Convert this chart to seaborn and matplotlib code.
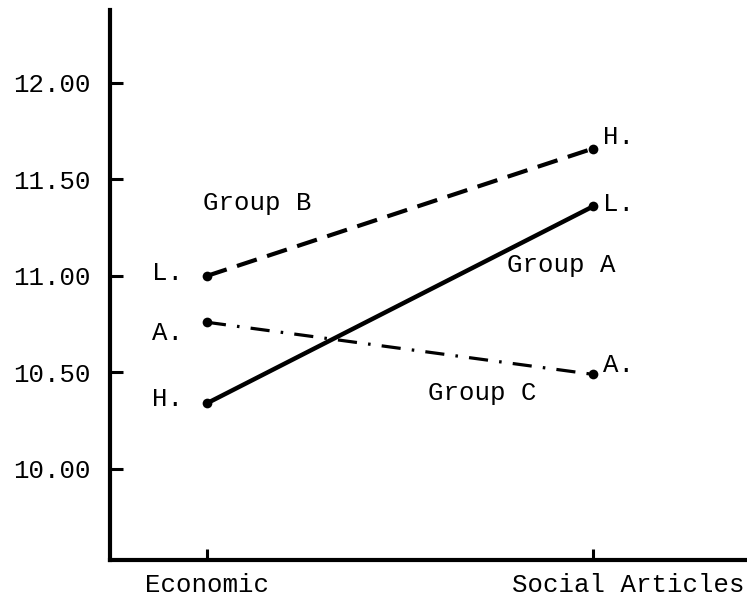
import matplotlib
matplotlib.use("Agg")
import matplotlib.pyplot as plt
import matplotlib.transforms as mtrans
import seaborn as sns
import pandas as pd

# article types on the x axis
articles = ["Economic", "Social Articles"]

# mean scores
group_a = [10.34, 11.36]
group_b = [11.00, 11.66]
group_c = [10.76, 10.49]

# point letters beside each end
labels_a = ["H.", "L."]
labels_b = ["L.", "H."]
labels_c = ["A.", "A."]

yticks = [10.00, 10.50, 11.00, 11.50, 12.00]

sns.set_style("ticks")
plt.rcParams["font.family"] = ["Liberation Mono", "DejaVu Sans Mono"]
plt.rcParams["font.size"] = 18.5
plt.rcParams["text.color"] = "black"

fig = plt.figure(figsize=(7.47, 6.04), dpi=100)
ax = fig.add_axes([110/747, 44/604, 637/747, 550/604])

df = pd.DataFrame({
    "article": articles * 3,
    "score": group_a + group_b + group_c,
    "group": ["Group A"]*2 + ["Group B"]*2 + ["Group C"]*2,
})

styles = {
    "Group A": dict(lw=3.2, linestyle="-"),
    "Group B": dict(lw=3.0, linestyle=(0, (5, 2.6))),
    "Group C": dict(lw=2.3, linestyle=(0, (6, 3.5, 0.8, 3.5))),
}
for g, kw in styles.items():
    sub = df[df["group"] == g]
    sns.lineplot(data=sub, x="article", y="score", color="black", marker="o",
                 markersize=7, markeredgewidth=0, ax=ax, legend=False, **kw)

# letter labels at both ends
left_off = {"L.": (-17, 2), "A.": (-17, -8), "H.": (-17, 3)}
for vals, labs, roff in [(group_a, labels_a, 2), (group_b, labels_b, 8), (group_c, labels_c, 7)]:
    ax.annotate(labs[0], (0, vals[0]), xytext=left_off[labs[0]], textcoords="offset points",
                ha="right", va="center", color="black")
    ax.annotate(labs[1], (1, vals[1]), xytext=(7, roff), textcoords="offset points",
                ha="left", va="center", color="black")

ax.text(-0.01, 11.378, "Group B", ha="left", va="center", color="black")
ax.text(0.777, 11.057, "Group A", ha="left", va="center", color="black")
ax.text(0.573, 10.394, "Group C", ha="left", va="center", color="black")

ax.set_xlim(-0.251, 1.399)
ax.set_ylim(9.528, 12.378)
ax.set_yticks(yticks)
ax.set_yticklabels([f"{v:.2f}" for v in yticks])
ax.set_xlabel("")
ax.set_ylabel("")

sns.despine(ax=ax)
for s in ["left", "bottom"]:
    ax.spines[s].set_linewidth(3)
    ax.spines[s].set_color("black")
ax.tick_params(axis="y", direction="in", length=9, width=2.2, pad=14, colors="black")
ax.tick_params(axis="x", direction="in", length=8, width=2.2, pad=9, colors="black")

# the second x label sits right of its tick
lab = ax.get_xticklabels()[1]
lab.set_transform(lab.get_transform() + mtrans.ScaledTranslation(35/100, 0, fig.dpi_scale_trans))

fig.savefig("out.png", dpi=100)
